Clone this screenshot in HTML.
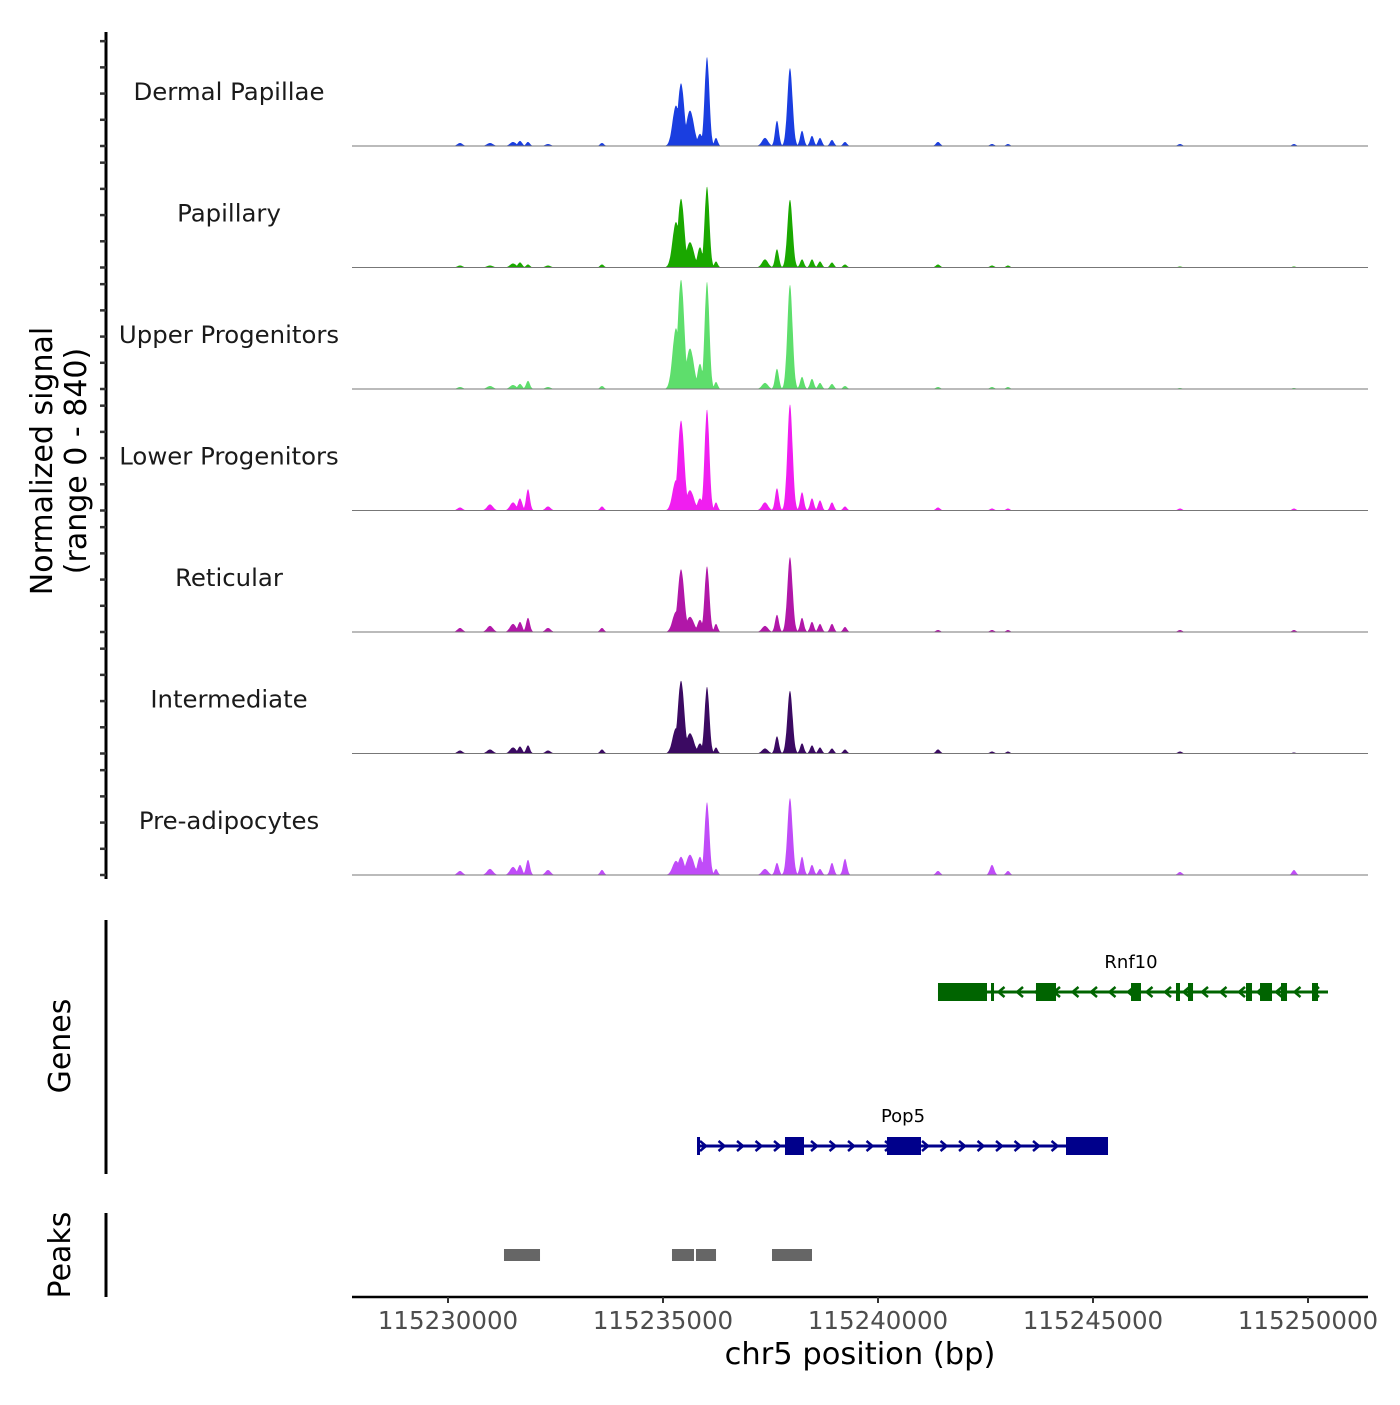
<!DOCTYPE html>
<html><head><meta charset="utf-8"><style>
body{margin:0;background:#fff;}
svg text{font-family:"DejaVu Sans","Liberation Sans",sans-serif;}
</style></head><body>
<svg id="c" width="1400" height="1400" xmlns="http://www.w3.org/2000/svg"></svg>
<script>
const tracks=["Dermal Papillae","Papillary","Upper Progenitors","Lower Progenitors","Reticular","Intermediate","Pre-adipocytes"];
const trackColors=["#1a3ee0","#1aa800","#5ede6c","#f01ef0","#b117a8","#3b0a62","#c04cf8"];
const peakPos=[115230279,115230977,115231512,115231674,115231860,115232326,115233581,115235302,115235419,115235628,115235860,115236023,115236233,115237372,115237651,115237953,115238233,115238465,115238651,115238930,115239233,115241395,115242651,115243023,115247023,115249674];
const peakWidth=[60,70,70,50,45,60,45,80,75,90,60,55,40,70,45,60,45,45,45,45,45,50,50,45,50,45];
const sigDermal=[21,21,28,35,28,14,21,280,434,245,84,616,56,56,175,539,105,70,56,42,28,28,14,14,14,14];
const sigPapillary=[14,14,28,35,21,14,21,315,476,175,140,560,42,56,126,469,56,56,42,35,21,21,14,14,7,7];
const sigUpper=[14,21,28,35,56,14,21,420,756,280,175,742,49,42,140,721,84,70,42,35,21,14,14,14,7,7];
const sigLower=[21,42,56,84,147,28,28,210,623,140,84,700,56,56,154,735,126,84,70,56,28,21,14,14,14,14];
const sigReticular=[28,42,56,70,98,28,28,140,434,105,84,455,56,42,119,518,98,70,56,56,35,14,14,14,14,14];
const sigIntermediate=[21,28,42,49,56,21,28,175,504,140,70,462,42,35,119,434,70,56,42,35,28,28,14,14,14,7];
const sigPreAdipo=[28,42,56,70,105,35,35,98,126,140,126,504,42,42,84,532,126,70,42,84,112,28,70,28,21,35];
const signals=[sigDermal,sigPapillary,sigUpper,sigLower,sigReticular,sigIntermediate,sigPreAdipo];
const xTicks=[115230000,115235000,115240000,115245000,115250000];
const yTicks=[0,200,400,600,800];
const rnf10Exons=[[115241395,115242535],[115242628,115242698],[115243674,115244140],[115245884,115246116],[115246930,115247023],[115247209,115247326],[115248558,115248698],[115248884,115249163],[115249372,115249512],[115250093,115250233]];
const rnf10Span=[115241442,115250465];
const pop5Exons=[[115235791,115235860],[115237837,115238279],[115240209,115241000],[115244372,115245349]];
const pop5Span=[115235791,115245349];
const peakRegions=[[115231302,115232140],[115235209,115235721],[115235767,115236233],[115237535,115238465]];

const NS="http://www.w3.org/2000/svg";
const svg=document.getElementById('c');
function el(t,a,p){const e=document.createElementNS(NS,t);for(const k in a)e.setAttribute(k,a[k]);(p||svg).appendChild(e);return e;}
const X=bp=>448+(bp-115230000)*0.043;
const base0=146,step=121.5,hMax=121.5,dMax=840;
const Y=(v,i)=>base0+i*step-v/dMax*hMax;

const ax=el('line',{x1:106,y1:32,x2:106,y2:879,stroke:'#000','stroke-width':3});

tracks.forEach((name,i)=>{
  yTicks.forEach(t=>{const tk=el('line',{x1:100,x2:106,y1:Y(t*0.906,i),y2:Y(t*0.906,i),stroke:'#333','stroke-width':2.5});
    });
  const lab=el('text',{x:229,y:base0+i*step-46,'text-anchor':'middle','font-size':24.4,fill:'#1a1a1a'});
  lab.textContent=name;
  
  const sig=signals[i];
  let d='M'+X(115228900)+','+Y(0,i);
  for(let bp=115228900;bp<=115250500;bp+=12){
    let v=0;
    for(let k=0;k<peakPos.length;k++){const w=peakWidth[k];const dd=(bp-peakPos[k])/w;const val=sig[k]*Math.exp(-0.5*dd*dd);v=Math.max(v,val);}
    d+=' L'+X(bp).toFixed(1)+','+Y(v,i).toFixed(1);
  }
  d+=' L'+X(115250500)+','+Y(0,i)+'Z';
  const ar=el('path',{d:d,fill:trackColors[i]});
  
  const bl=el('line',{x1:352,x2:1368,y1:Y(0,i),y2:Y(0,i),stroke:'#777','stroke-width':1});
  
});
</script>
<script>
const t1=el('text',{x:0,y:0,'font-size':30,'text-anchor':'middle',fill:'#000',transform:'translate(52,461) rotate(-90)'});
t1.textContent='Normalized signal';

const t2=el('text',{x:0,y:0,'font-size':30,'text-anchor':'middle',fill:'#000',transform:'translate(86,461) rotate(-90)'});
t2.textContent='(range 0 - 840)';


const ga=el('line',{x1:106,x2:106,y1:920,y2:1174,stroke:'#000','stroke-width':3});

const gt=el('text',{x:0,y:0,'font-size':30,'text-anchor':'middle',fill:'#000',transform:'translate(70,1046) rotate(-90)'});
gt.textContent='Genes';

function gene(name,span,exons,y,color,dir,lx){
  const g=el('g',{});
  
  el('line',{x1:X(span[0]),x2:X(span[1]),y1:y,y2:y,stroke:color,'stroke-width':3},g);
  for(let x=X(span[0])+6;x<X(span[1])-4;x+=18.5){
    const p=dir>0?`M${x-3},${y-5} L${x+3},${y} L${x-3},${y+5}`:`M${x+3},${y-5} L${x-3},${y} L${x+3},${y+5}`;
    el('path',{d:p,stroke:color,'stroke-width':2.5,fill:'none'},g);
  }
  exons.forEach(e=>{const r=el('rect',{x:X(e[0]),y:y-9,width:Math.max(3,X(e[1])-X(e[0])),height:18,fill:color},g);
    });
  const t=el('text',{x:lx,y:y-24,'font-size':18,'text-anchor':'middle',fill:'#000'},g);t.textContent=name;
}
gene('Rnf10',rnf10Span,rnf10Exons,992,'#006400',-1,1131);
gene('Pop5',pop5Span,pop5Exons,1146,'#00008b',1,903);

const pa=el('line',{x1:106,x2:106,y1:1213,y2:1297,stroke:'#000','stroke-width':3});

const pt=el('text',{x:0,y:0,'font-size':30,'text-anchor':'middle',fill:'#000',transform:'translate(70,1255) rotate(-90)'});
pt.textContent='Peaks';

peakRegions.forEach(p=>{const r=el('rect',{x:X(p[0]),y:1249,width:X(p[1])-X(p[0]),height:12,fill:'#666'});
  });

const xa=el('line',{x1:352,x2:1368,y1:1297,y2:1297,stroke:'#000','stroke-width':2.5});

xTicks.forEach(t=>{
  const tk=el('line',{x1:X(t),x2:X(t),y1:1297,y2:1303,stroke:'#333','stroke-width':2});
  
  const l=el('text',{x:X(t),y:1329,'font-size':24.5,'text-anchor':'middle',fill:'#4d4d4d'});l.textContent=t;
  
});
const xt=el('text',{x:860,y:1364,'font-size':30.5,'text-anchor':'middle',fill:'#000'});
xt.textContent='chr5 position (bp)';

</script>
</body></html>
